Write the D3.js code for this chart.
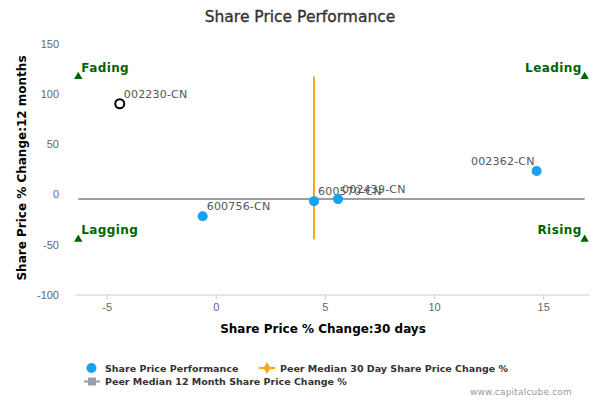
<!DOCTYPE html>
<html>
<head>
<meta charset="utf-8">
<script src="https://cdn.jsdelivr.net/npm/d3@7"></script>
<style>
  body { margin: 0; background: #fff; }
  svg { font-family: "DejaVu Sans", sans-serif; }
</style>
</head>
<body>
<svg id="chart" width="600" height="400"></svg>
<script>
// Companies and their (30 day, 12 month) share price change
var tickers = ["002230-CN", "600756-CN", "600570-CN", "002439-CN", "002362-CN"];
var change30d = [-4.4, -0.6, 4.5, 5.6, 14.7];
var change12m = [90, -22, -7, -5, 23];
// the first one is the company itself (hollow marker)
var isSelf = [true, false, false, false, false];

// Peer medians
var peerMedian30d = 4.5;
var peerMedian12m = -5;
// extent of the median lines / quadrant markers
var quadX = [-6.3, 16.9];
var quadY = [-45, 117];
var quadNames = ["Fading", "Leading", "Lagging", "Rising"];

var xTicks = [-5, 0, 5, 10, 15];
var yTicks = [-100, -50, 0, 50, 100, 150];

function draw() {
	const svg = d3.select("#chart");
	const left = 75, right = 589, top = 43.5, bottom = 294.5;

	const x = d3.scaleLinear().domain([-6.45, 17.1]).range([left, right]);
	const y = d3.scaleLinear().domain([-100, 150]).range([bottom, top]);

	const blue = "#16a2f0", orange = "#f8a51c", grey = "#9a9ea8", green = "#006400";

	// Title
	svg.append("text")
		.attr("x", 300).attr("y", 21.5)
		.attr("text-anchor", "middle")
		.attr("font-size", 15.5).attr("fill", "#333")
		.attr("stroke", "#333").attr("stroke-width", 0.35)
		.text("Share Price Performance");

	// X axis (plain hyphen minus like the original)
	const xAxis = svg.append("g")
		.attr("transform", `translate(0,${bottom})`)
		.call(d3.axisBottom(x).tickValues(xTicks).tickFormat(d => String(d))
			.tickSize(5).tickSizeOuter(0).tickPadding(4));
	xAxis.select(".domain").attr("stroke", "#C0D0E0");
	xAxis.selectAll(".tick line").attr("stroke", "#C0D0E0");
	xAxis.selectAll("text").attr("fill", "#666").attr("font-size", 11);

	// Y axis (labels only)
	const yAxis = svg.append("g")
		.attr("transform", `translate(${left - 16},0)`)
		.call(d3.axisLeft(y).tickValues(yTicks).tickFormat(d => String(d)).tickSize(0).tickPadding(0));
	yAxis.select(".domain").remove();
	yAxis.selectAll("text").attr("fill", "#666").attr("font-size", 11).attr("dy", "0.35em");

	// Axis titles
	svg.append("text")
		.attr("x", 323).attr("y", 333)
		.attr("text-anchor", "middle")
		.attr("font-size", 12).attr("font-weight", "bold").attr("fill", "#000")
		.text("Share Price % Change:30 days");
	svg.append("text")
		.attr("transform", "translate(26,168) rotate(-90)")
		.attr("text-anchor", "middle")
		.attr("font-size", 12).attr("font-weight", "bold").attr("fill", "#000")
		.text("Share Price % Change:12 months");

	// Peer median lines
	svg.append("line")
		.attr("x1", x(quadX[0])).attr("x2", x(quadX[1]))
		.attr("y1", y(peerMedian12m)).attr("y2", y(peerMedian12m))
		.attr("stroke", grey).attr("stroke-width", 2);
	svg.append("line")
		.attr("x1", x(peerMedian30d)).attr("x2", x(peerMedian30d))
		.attr("y1", y(quadY[0])).attr("y2", y(quadY[1]))
		.attr("stroke", orange).attr("stroke-width", 2);

	// Quadrant markers
	const quads = [
		{name: quadNames[0], x: quadX[0], y: quadY[1], anchor: "start"},
		{name: quadNames[1], x: quadX[1], y: quadY[1], anchor: "end"},
		{name: quadNames[2], x: quadX[0], y: quadY[0], anchor: "start"},
		{name: quadNames[3], x: quadX[1], y: quadY[0], anchor: "end"}
	];
	const tri = d3.symbol().type(d3.symbolTriangle).size(30);
	const q = svg.append("g").selectAll("g").data(quads).enter().append("g")
		.attr("transform", d => `translate(${x(d.x)},${y(d.y)})`);
	q.append("path").attr("d", tri).attr("fill", green);
	q.append("text")
		.attr("x", d => d.anchor == "start" ? 3 : -3)
		.attr("y", -5)
		.attr("text-anchor", d => d.anchor)
		.attr("font-size", 12).attr("font-weight", "bold").attr("fill", green)
		.style("letter-spacing", "0.4px")
		.text(d => d.name);

	// Points
	const pts = tickers.map((t, i) => ({t: t, x: change30d[i], y: change12m[i], self: isSelf[i]}));
	const g = svg.append("g").selectAll("g").data(pts).enter().append("g")
		.attr("transform", d => `translate(${x(d.x)},${y(d.y)})`);
	g.append("circle")
		.attr("r", d => d.self ? 4.5 : 5)
		.attr("fill", d => d.self ? "none" : blue)
		.attr("stroke", d => d.self ? "#000" : "none")
		.attr("stroke-width", 2);
	g.append("text")
		.attr("x", d => d.x > 10 ? -2 : 4)
		.attr("y", -6)
		.attr("text-anchor", d => d.x > 10 ? "end" : "start")
		.attr("font-size", 11).attr("fill", "#555")
		.style("letter-spacing", "0.2px")
		.text(d => d.t);

	// Legend
	const leg = svg.append("g").attr("font-size", 9.5).attr("font-weight", "bold").attr("fill", "#333");
	leg.append("circle").attr("cx", 91.5).attr("cy", 368).attr("r", 5).attr("fill", blue);
	leg.append("text").attr("x", 105).attr("y", 371.5).text("Share Price Performance");
	leg.append("line").attr("x1", 259).attr("x2", 275).attr("y1", 368).attr("y2", 368)
		.attr("stroke", orange).attr("stroke-width", 2);
	leg.append("path").attr("transform", "translate(267,368)")
		.attr("d", d3.symbol().type(d3.symbolDiamond).size(40)).attr("fill", orange);
	leg.append("text").attr("x", 280).attr("y", 371.5).text("Peer Median 30 Day Share Price Change %");
	leg.append("line").attr("x1", 84).attr("x2", 100).attr("y1", 381.5).attr("y2", 381.5)
		.attr("stroke", grey).attr("stroke-width", 2);
	leg.append("rect").attr("x", 88).attr("y", 377.5).attr("width", 8).attr("height", 8).attr("fill", grey);
	leg.append("text").attr("x", 105).attr("y", 385).text("Peer Median 12 Month Share Price Change %");

	// Credit
	svg.append("text")
		.attr("x", 572).attr("y", 395)
		.attr("text-anchor", "end")
		.attr("font-size", 9).attr("fill", "#999")
		.style("letter-spacing", "0.2px")
		.text("www.capitalcube.com");
}
draw();
</script>
</body>
</html>
